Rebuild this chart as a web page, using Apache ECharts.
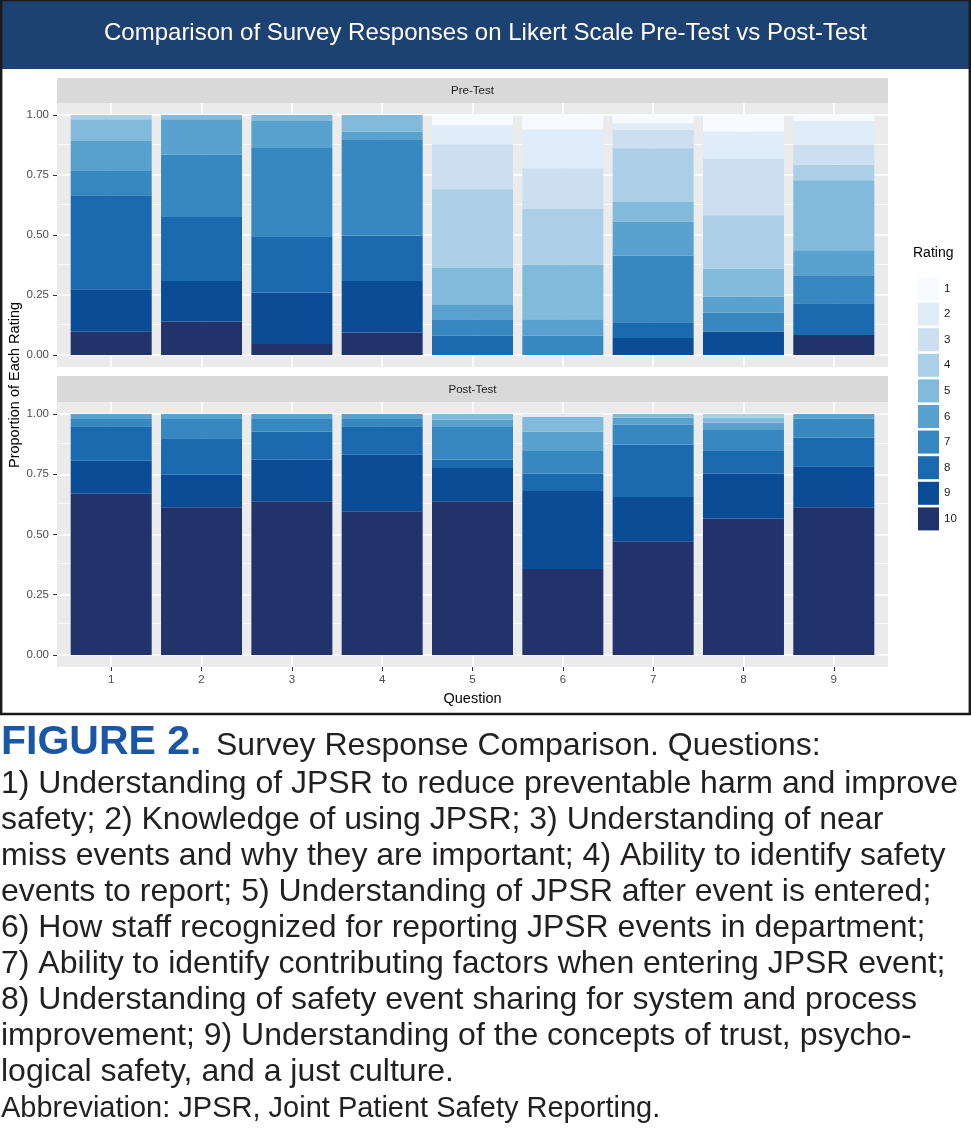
<!DOCTYPE html>
<html>
<head>
<meta charset="utf-8">
<script src="https://cdn.jsdelivr.net/npm/echarts@6/dist/echarts.min.js"></script>
<style>
html,body{margin:0;padding:0;background:#ffffff;}
#chart{width:971px;height:1133px;}
</style>
</head>
<body>
<div id="chart"></div>
<script>
// ---------------- data ----------------
const chartTitle = 'Comparison of Survey Responses on Likert Scale Pre-Test vs Post-Test';
const panelTitles = ['Pre-Test', 'Post-Test'];
const questions = ['1', '2', '3', '4', '5', '6', '7', '8', '9'];
const ratingLevels = ['1', '2', '3', '4', '5', '6', '7', '8', '9', '10'];
const ratingColors = ['#F7FBFF', '#E0ECF7', '#CBDFF0', '#ABCFE6', '#82BADB',
                      '#59A2CF', '#3787C0', '#1B6AAF', '#0A4C96', '#22326A'];
const yTicks = [0, 0.25, 0.5, 0.75, 1];
const yMinorTicks = [0.125, 0.375, 0.625, 0.875];

// Pre-Test proportions per rating (questions 1..9)
const preR1  = [0, 0, 0, 0, 0.042, 0.060, 0.035, 0.070, 0.025];
const preR2  = [0, 0, 0, 0, 0.080, 0.162, 0.028, 0.113, 0.099];
const preR3  = [0, 0, 0, 0, 0.187, 0.170, 0.076, 0.235, 0.083];
const preR4  = [0.018, 0, 0, 0, 0.328, 0.231, 0.223, 0.223, 0.065];
const preR5  = [0.090, 0.018, 0.025, 0.069, 0.152, 0.228, 0.082, 0.116, 0.292];
const preR6  = [0.122, 0.148, 0.113, 0.032, 0.062, 0.069, 0.141, 0.066, 0.104];
const preR7  = [0.104, 0.259, 0.370, 0.401, 0.069, 0.080, 0.279, 0.079, 0.116];
const preR8  = [0.392, 0.267, 0.232, 0.190, 0.080, 0, 0.065, 0, 0.133];
const preR9  = [0.177, 0.168, 0.214, 0.214, 0, 0, 0.071, 0.098, 0];
const preR10 = [0.097, 0.140, 0.046, 0.094, 0, 0, 0, 0, 0.083];

// Post-Test proportions per rating (questions 1..9)
const postR1  = [0, 0, 0, 0, 0, 0, 0, 0, 0];
const postR2  = [0, 0, 0, 0, 0, 0.012, 0, 0, 0];
const postR3  = [0, 0, 0, 0, 0, 0, 0, 0, 0];
const postR4  = [0, 0, 0, 0, 0, 0, 0, 0.015, 0];
const postR5  = [0, 0, 0, 0, 0.024, 0.062, 0.015, 0.021, 0];
const postR6  = [0.021, 0.021, 0.021, 0.021, 0.030, 0.079, 0.028, 0.030, 0.018];
const postR7  = [0.030, 0.079, 0.051, 0.030, 0.135, 0.094, 0.083, 0.084, 0.080];
const postR8  = [0.143, 0.152, 0.117, 0.118, 0.035, 0.072, 0.218, 0.097, 0.119];
const postR9  = [0.137, 0.135, 0.173, 0.235, 0.138, 0.324, 0.184, 0.187, 0.170];
const postR10 = [0.669, 0.613, 0.638, 0.596, 0.638, 0.357, 0.472, 0.566, 0.613];

const captionFigure = 'FIGURE 2.';
const captionHead = 'Survey Response Comparison. Questions:';
const captionLines = [
  '1) Understanding of JPSR to reduce preventable harm and improve',
  'safety; 2) Knowledge of using JPSR; 3) Understanding of near',
  'miss events and why they are important; 4) Ability to identify safety',
  'events to report; 5) Understanding of JPSR after event is entered;',
  '6) How staff recognized for reporting JPSR events in department;',
  '7) Ability to identify contributing factors when entering JPSR event;',
  '8) Understanding of safety event sharing for system and process',
  'improvement; 9) Understanding of the concepts of trust, psycho-',
  'logical safety, and a just culture.'
];
const captionAbbrev = 'Abbreviation: JPSR, Joint Patient Safety Reporting.';

// ---------------- build ----------------
const preData = [preR1, preR2, preR3, preR4, preR5, preR6, preR7, preR8, preR9, preR10];
const postData = [postR1, postR2, postR3, postR4, postR5, postR6, postR7, postR8, postR9, postR10];
const panelData = [preData, postData];

const FONT = '"Liberation Sans", Arial, Helvetica, sans-serif';
const W = 971;
const PANEL_LEFT = 57, PANEL_RIGHT = 888;
const UNIT = (PANEL_RIGHT - PANEL_LEFT) / (questions.length - 1 + 1.2); // ggplot discrete expansion 0.6
const panelTops = [103, 402];
const panelHeights = [264, 265];
const stripTops = [78, 376];
const stripHeights = [25, 26];

// grids 0,1: full panel (background, grid lines, y axis); grids 2,3: bars (category bands)
const grids = [];
[0, 1].forEach(p => grids.push({
  left: PANEL_LEFT, right: W - PANEL_RIGHT, top: panelTops[p], height: panelHeights[p],
  show: true, backgroundColor: '#EBEBEB', borderWidth: 0
}));
[0, 1].forEach(p => grids.push({
  left: PANEL_LEFT + 0.1 * UNIT, right: W - (PANEL_RIGHT - 0.1 * UNIT), top: panelTops[p], height: panelHeights[p],
  show: false
}));

const xAxes = [];
[0, 1].forEach(p => xAxes.push({
  type: 'value', gridIndex: p, min: 0.4, max: 9.6, show: false,
  axisLine: { show: false, onZero: false }, splitLine: { show: false }
}));
[0, 1].forEach(p => xAxes.push({
  type: 'category', gridIndex: 2 + p, data: questions, boundaryGap: true,
  axisLine: { show: false, onZero: false },
  axisTick: { show: p === 1, alignWithLabel: true, length: 4, lineStyle: { color: '#333333', width: 1 } },
  axisLabel: { show: p === 1, color: '#4D4D4D', fontSize: 11.5, fontFamily: FONT, margin: 7 },
  splitLine: { show: false },
  name: p === 1 ? 'Question' : '',
  nameLocation: 'middle', nameGap: 24,
  nameTextStyle: { fontSize: 14.5, color: '#000000', fontFamily: FONT }
}));

const yAxes = [];
[0, 1].forEach(p => yAxes.push({
  type: 'value', gridIndex: p, min: -0.05, max: 1.05,
  axisLine: { show: false, onZero: false },
  axisTick: { show: true, customValues: yTicks, length: 4, lineStyle: { color: '#333333', width: 1 } },
  axisLabel: { customValues: yTicks, formatter: v => Number(v).toFixed(2), color: '#4D4D4D', fontSize: 11.5, fontFamily: FONT, margin: 8 },
  splitLine: { show: false }
}));
[0, 1].forEach(p => yAxes.push({
  type: 'value', gridIndex: 2 + p, min: -0.05, max: 1.05, show: false,
  axisLine: { show: false, onZero: false }, splitLine: { show: false }
}));

const series = [];
[0, 1].forEach(p => {
  // panel grid lines (drawn under the bars)
  const lines = [];
  yTicks.forEach(v => lines.push({ yAxis: v, lineStyle: { width: 1.6 } }));
  yMinorTicks.forEach(v => lines.push({ yAxis: v, lineStyle: { width: 0.7 } }));
  questions.forEach((q, i) => lines.push({ xAxis: i + 1, lineStyle: { width: 1.6 } }));
  series.push({
    type: 'line', name: '_grid' + p, xAxisIndex: p, yAxisIndex: p,
    data: [[1, 0]], symbol: 'none', showSymbol: false,
    lineStyle: { opacity: 0 }, silent: true, z: 1, animation: false,
    markLine: {
      silent: true, z: 1, symbol: ['none', 'none'], animation: false,
      label: { show: false }, emphasis: { disabled: true },
      lineStyle: { color: '#FFFFFF', type: 'solid', opacity: 1 },
      data: lines
    }
  });
  // stacked bars: rating 10 at the bottom, rating 1 at the top
  for (let r = ratingLevels.length - 1; r >= 0; r--) {
    series.push({
      type: 'bar', name: ratingLevels[r], xAxisIndex: 2 + p, yAxisIndex: 2 + p,
      stack: 'panel' + p, barWidth: 81, z: 3, animation: false,
      itemStyle: { color: ratingColors[r] },
      emphasis: { disabled: true },
      data: panelData[p][r]
    });
  }
});

const graphic = [];
// title bar
graphic.push({ type: 'rect', shape: { x: 0, y: 0, width: W, height: 69 }, style: { fill: '#1D4170' }, z: 0, silent: true });
// frame
graphic.push({ type: 'rect', shape: { x: 1.2, y: 0, width: 968.6, height: 714 }, style: { fill: 'none', stroke: '#1A1A1A', lineWidth: 2.4 }, z: 0, silent: true });
// strips
[0, 1].forEach(p => {
  graphic.push({ type: 'rect', shape: { x: PANEL_LEFT, y: stripTops[p], width: PANEL_RIGHT - PANEL_LEFT, height: stripHeights[p] },
    style: { fill: '#D9D9D9' }, z: 0, silent: true });
  graphic.push({ type: 'text', x: (PANEL_LEFT + PANEL_RIGHT) / 2, y: stripTops[p] + stripHeights[p] / 2 + 0.5,
    style: { text: panelTitles[p], fontSize: 11.5, fontFamily: FONT, fill: '#1A1A1A', align: 'center', verticalAlign: 'middle' }, z: 5, silent: true });
});
// y axis title
graphic.push({ type: 'text', x: 15, y: 385, rotation: Math.PI / 2,
  style: { text: 'Proportion of Each Rating', fontSize: 14.5, fontFamily: FONT, fill: '#000000', align: 'center', verticalAlign: 'middle' }, z: 5, silent: true });
// legend title
graphic.push({ type: 'text', x: 913, y: 253,
  style: { text: 'Rating', fontSize: 14, fontFamily: FONT, fill: '#000000', align: 'left', verticalAlign: 'middle' }, z: 5, silent: true });
// caption
const CAP_FS = 32, LINE_H = 36, BASE2 = 795;
graphic.push({ type: 'text', x: 1, y: 757 - 0.3465 * 41,
  style: { text: captionFigure, fontSize: 41, fontWeight: 'bold', fontFamily: FONT, fill: '#1956A6', align: 'left', verticalAlign: 'middle' }, z: 5, silent: true });
graphic.push({ type: 'text', x: 216, y: 757 - 0.3465 * CAP_FS,
  style: { text: captionHead, fontSize: CAP_FS, fontFamily: FONT, fill: '#231F20', align: 'left', verticalAlign: 'middle' }, z: 5, silent: true });
captionLines.forEach((t, i) => {
  graphic.push({ type: 'text', x: 1, y: BASE2 + i * LINE_H - 0.3465 * CAP_FS,
    style: { text: t, fontSize: CAP_FS, fontFamily: FONT, fill: '#231F20', align: 'left', verticalAlign: 'middle' }, z: 5, silent: true });
});
graphic.push({ type: 'text', x: 1, y: BASE2 + captionLines.length * LINE_H - 0.3465 * 29,
  style: { text: captionAbbrev, fontSize: 29, fontFamily: FONT, fill: '#231F20', align: 'left', verticalAlign: 'middle' }, z: 5, silent: true });

const option = {
  backgroundColor: '#FFFFFF',
  animation: false,
  title: {
    text: chartTitle, left: 'center', top: 16, z: 10,
    textStyle: { color: '#FFFFFF', fontSize: 24, fontWeight: 'normal', fontFamily: FONT }
  },
  legend: {
    data: ratingLevels, orient: 'vertical', left: 913, top: 272,
    itemWidth: 21, itemHeight: 23, itemGap: 2.6, icon: 'rect',
    selectedMode: false,
    textStyle: { fontSize: 11.5, color: '#1A1A1A', fontFamily: FONT }
  },
  grid: grids,
  xAxis: xAxes,
  yAxis: yAxes,
  series: series,
  graphic: graphic
};

const chart = echarts.init(document.getElementById('chart'), null, { renderer: 'canvas' });
chart.setOption(option);
</script>
</body>
</html>
